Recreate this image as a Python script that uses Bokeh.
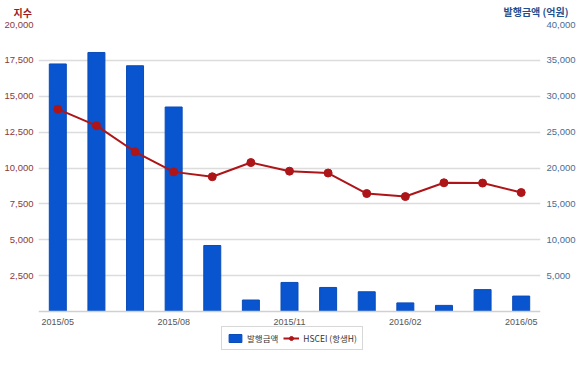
from bokeh.plotting import figure
from bokeh.models import (Range1d, LinearAxis, FixedTicker, NumeralTickFormatter,
                          Legend, LegendItem, Title)
from bokeh.embed import file_html
from bokeh.resources import INLINE

months = ["2015/05", "2015/06", "2015/07", "2015/08", "2015/09", "2015/10", "2015/11",
          "2015/12", "2016/01", "2016/02", "2016/03", "2016/04", "2016/05"]
amount = [34500, 36100, 34250, 28500, 9200, 1600, 4050, 3350, 2750, 1200, 850, 3050, 2150]
hscei = [14100, 12950, 11130, 9730, 9390, 10380, 9780, 9650, 8220, 8010, 8970, 8950, 8290]
left_ticks = [2500, 5000, 7500, 10000, 12500, 15000, 17500, 20000]
right_ticks = [5000, 10000, 15000, 20000, 25000, 30000, 35000, 40000]
shown_months = ["2015/05", "2015/08", "2015/11", "2016/02", "2016/05"]
left_title = "지수"
right_title = "발행금액 (억원)"
series_names = ["발행금액", "HSCEI (항생H)"]
left_max, right_max = 20000, 40000

xs = list(range(len(months)))
NUM_FONT = "Liberation Sans"
KR_FONT = "Noto Sans CJK KR"
W, H = 580, 366
FL, FR, FT = 38, 540, 24      # frame left/right/top (px)
BASE = 311                     # pixel row of the zero baseline
BOT_BORDER = 16                # space kept under the frame for the axis panel
FB = H - BOT_BORDER            # frame bottom
ext = (FB - BASE) / (BASE - FT)  # fraction of the range below zero

p = figure(width=W, height=H, output_backend="svg", toolbar_location=None, title=None,
           x_range=Range1d(-0.5, len(months) - 0.5),
           y_range=Range1d(-left_max * ext, left_max),
           min_border_left=FL, min_border_right=W - FR, min_border_top=FT,
           min_border_bottom=BOT_BORDER,
           background_fill_color="white", border_fill_color="white")
p.outline_line_color = None
p.styles = {"outline": "1px solid #d4d4d4", "outline-offset": "-3px"}
p.extra_y_ranges = {"amt": Range1d(-right_max * ext, right_max)}
p.extra_x_ranges = {"px": Range1d(FL, FR)}

bars = p.vbar(x=xs, top=amount, width=0.44, y_range_name="amt",
              fill_color="#0855cf", line_color="#0a4cb8")
line = p.line(xs, hscei, line_color="#ad1518", line_width=2)
pts = p.scatter(xs, hscei, size=8, fill_color="#ad1518", line_color="#ad1518")


def bare(ax):
    ax.axis_line_color = None
    ax.major_tick_line_color = None
    ax.minor_tick_line_color = None
    ax.major_tick_out = 0
    ax.major_tick_in = 0
    ax.minor_tick_out = 0
    ax.minor_tick_in = 0


la = p.yaxis[0]
la.ticker = FixedTicker(ticks=left_ticks)
la.formatter = NumeralTickFormatter(format="0,0")
bare(la)
la.major_label_standoff = 5
la.major_label_text_color = "#8b3a3a"
la.major_label_text_font = NUM_FONT
la.major_label_text_font_size = "9.5px"

ra = LinearAxis(y_range_name="amt", ticker=FixedTicker(ticks=right_ticks),
                formatter=NumeralTickFormatter(format="0,0"))
bare(ra)
ra.major_label_standoff = 6
ra.major_label_text_color = "#4a6d94"
ra.major_label_text_font = NUM_FONT
ra.major_label_text_font_size = "9.5px"
p.add_layout(ra, "right")

xa = p.xaxis[0]
tick_idx = [months.index(m) for m in shown_months]
xa.ticker = FixedTicker(ticks=tick_idx)
xa.major_label_overrides = {i: months[i] for i in tick_idx}
xa.fixed_location = 0
bare(xa)
xa.axis_line_color = "#d0d0d0"
xa.axis_line_width = 1.5
xa.major_label_standoff = 5
xa.major_label_text_color = "#555555"
xa.major_label_text_font = NUM_FONT
xa.major_label_text_font_size = "9px"

# inner row of the top panel: left title
p.add_layout(Title(text=left_title, align="left", offset=-25, vertical_align="top",
                   standoff=5, text_font=KR_FONT, text_font_size="10px",
                   text_font_style="bold", text_color="#9e1a1a"), "above")

# outer row: right title, drawn as a label of a bare top axis
ta = LinearAxis(x_range_name="px", ticker=FixedTicker(ticks=[535.5]),
                major_label_overrides={535.5: right_title})
bare(ta)
ta.major_label_standoff = -16
ta.major_label_text_color = "#1e4f8e"
ta.major_label_text_font = KR_FONT
ta.major_label_text_font_size = "10px"
ta.major_label_text_font_style = "bold"
p.add_layout(ta, "above")

p.xgrid.grid_line_color = None
p.ygrid.grid_line_color = "#dcdcdc"
p.ygrid.grid_line_width = 1.5

legend = Legend(items=[LegendItem(label=series_names[0], renderers=[bars]),
                       LegendItem(label=series_names[1], renderers=[line, pts])],
                location=(183, 0), orientation="horizontal",
                label_text_font=KR_FONT, label_text_font_size="8.5px",
                label_text_color="#333333", glyph_width=16, glyph_height=10,
                label_standoff=4, spacing=5, padding=5, margin=0,
                border_line_color="#b0b0b0", background_fill_color="white")
p.add_layout(legend, "center")

open("out.html", "w").write(file_html(p, INLINE))
